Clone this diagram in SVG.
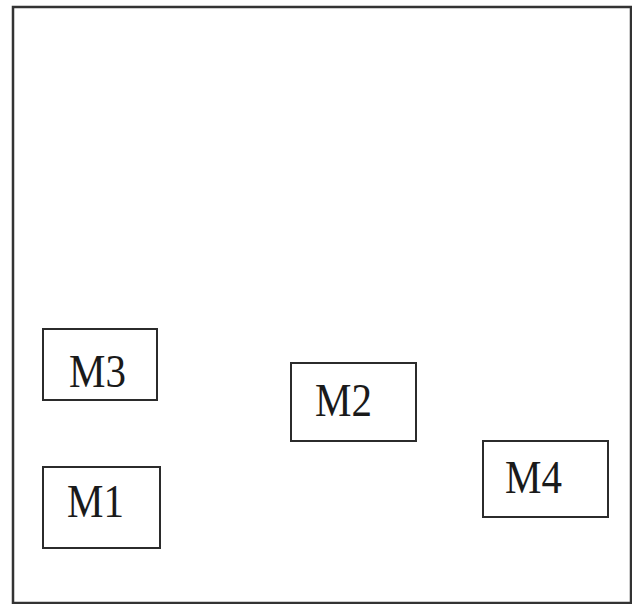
<svg xmlns="http://www.w3.org/2000/svg" width="632" height="604" viewBox="0 0 632 604">
<style>
.box{fill:#fff;stroke:#2b2b2b;stroke-width:2}
.lbl{font-family:"Liberation Serif","Times New Roman",serif;font-size:41px;fill:#1a1a1a}
</style>
<rect x="0" y="0" width="632" height="604" fill="#fff"/>
<rect id="frame" x="13" y="7" width="618" height="596" fill="none" stroke="#333" stroke-width="2.5"/>
<g id="connectors"></g>
<g id="M3">
<rect class="box" x="43" y="329" width="114" height="71"/>
<text class="lbl" transform="translate(69,387) scale(1,1.15)">M3</text>
</g>
<g id="M1">
<rect class="box" x="43" y="467" width="117" height="81"/>
<text class="lbl" transform="translate(67,517) scale(1,1.15)">M1</text>
</g>
<g id="M2">
<rect class="box" x="291" y="363" width="125" height="78"/>
<text class="lbl" transform="translate(315,416) scale(1,1.15)">M2</text>
</g>
<g id="M4">
<rect class="box" x="483" y="441" width="125" height="76"/>
<text class="lbl" transform="translate(505,493) scale(1,1.15)">M4</text>
</g>
</svg>
